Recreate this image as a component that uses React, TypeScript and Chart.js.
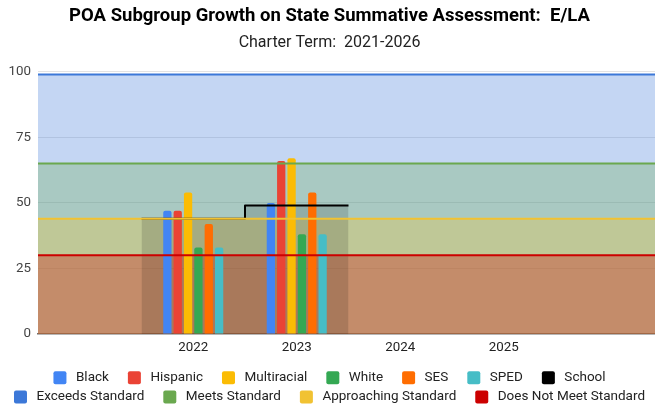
import React, { useEffect, useRef } from 'react';
import { Chart, registerables } from 'chart.js';

Chart.register(...registerables);

// ---- data ----
const categories = ['2021', '2022', '2023', '2024', '2025', '2026'];
const tickLabels = ['', '2022', '2023', '2024', '2025', ''];
const yTicks = [0, 25, 50, 75, 100];

const blackValues = [null, 47, 50, null, null, null];
const hispanicValues = [null, 47, 66, null, null, null];
const multiracialValues = [null, 54, 67, null, null, null];
const whiteValues = [null, 33, 38, null, null, null];
const sesValues = [null, 42, 54, null, null, null];
const spedValues = [null, 33, 38, null, null, null];
const schoolValues = [null, 44, 49, null, null, null];

const exceedsStandard = 99;
const meetsStandard = 65;
const approachingStandard = 44;
const doesNotMeetStandard = 30;

const FONT = 'Roboto';

function alpha(hex: string, a: number) {
  const n = parseInt(hex.slice(1), 16);
  return `rgba(${(n >> 16) & 255},${(n >> 8) & 255},${n & 255},${a})`;
}

function roundRect(g: CanvasRenderingContext2D, x: number, y: number, w: number, h: number, r: number) {
  g.beginPath();
  g.moveTo(x + r, y);
  g.lineTo(x + w - r, y);
  g.arcTo(x + w, y, x + w, y + r, r);
  g.lineTo(x + w, y + h - r);
  g.arcTo(x + w, y + h, x + w - r, y + h, r);
  g.lineTo(x + r, y + h);
  g.arcTo(x, y + h, x, y + h - r, r);
  g.lineTo(x, y + r);
  g.arcTo(x, y, x + r, y, r);
  g.closePath();
}

// legend drawn as canvas text, in centred rows (Sheets style)
const legendPlugin = {
  id: 'sheetLegend',
  afterDraw(chart: any) {
    const o = chart.options.plugins.sheetLegend;
    const g: CanvasRenderingContext2D = chart.ctx;
    const items = chart.data.datasets
      .filter((ds: any) => !ds.skipLegend)
      .map((ds: any) => ({ text: ds.label as string, color: ds.legendColor as string }));
    g.save();
    g.font = `${o.fontSize}px ${FONT}`;
    const widths = items.map((it: any) => o.box + o.textGap + g.measureText(it.text).width);
    const rows: number[][] = [[]];
    let rowW = 0;
    widths.forEach((w: number, i: number) => {
      const cur = rows[rows.length - 1];
      const add = cur.length ? o.itemGap + w : w;
      if (cur.length && rowW + add > chart.width) {
        rows.push([i]);
        rowW = w;
      } else {
        cur.push(i);
        rowW += add;
      }
    });
    g.textBaseline = 'middle';
    g.textAlign = 'left';
    rows.forEach((row, r) => {
      const total = row.reduce((s, i, k) => s + widths[i] + (k ? o.itemGap : 0), 0);
      let x = chart.width / 2 - total / 2;
      const cy = o.top + r * o.rowHeight;
      row.forEach((i) => {
        g.fillStyle = items[i].color;
        roundRect(g, x, cy - o.box / 2, o.box, o.box, 2);
        g.fill();
        g.fillStyle = o.color;
        g.fillText(items[i].text, x + o.box + o.textGap, cy);
        x += widths[i] + o.itemGap;
      });
    });
    g.restore();
  },
};

export default function App() {
  const ref = useRef<HTMLCanvasElement>(null);

  useEffect(() => {
    if (!ref.current) return;
    const xMin = -0.5;
    const xMax = categories.length - 0.5;
    const bandLine = (v: number) => [
      { x: xMin, y: v },
      { x: xMax, y: v },
    ];
    const schoolStep: { x: number; y: number }[] = [];
    schoolValues.forEach((v, i) => {
      if (v == null) return;
      if (schoolStep.length === 0) schoolStep.push({ x: i - 0.5, y: v });
      schoolStep.push({ x: i + 0.5, y: v });
    });
    const toPoints = (vals: (number | null)[]) => vals.map((v, i) => ({ x: i, y: v }));

    const barDs = (label: string, data: (number | null)[], color: string) => ({
      type: 'bar' as const,
      label,
      data: toPoints(data),
      xAxisID: 'x',
      yAxisID: 'y',
      backgroundColor: color,
      legendColor: color,
      categoryPercentage: 0.6,
      barPercentage: 0.8,
      borderRadius: 2,
      borderSkipped: 'start' as const,
      order: 5,
    });
    const bandDs = (label: string, value: number, color: string, order: number) => ({
      type: 'line' as const,
      label,
      data: bandLine(value),
      xAxisID: 'x',
      yAxisID: 'y',
      borderColor: color,
      backgroundColor: alpha(color, 0.3),
      legendColor: color,
      borderWidth: 2,
      pointRadius: 0,
      fill: 'origin',
      order,
    });

    const datasets: any[] = [
      barDs('Black', blackValues, '#4285f4'),
      barDs('Hispanic', hispanicValues, '#ea4335'),
      barDs('Multiracial', multiracialValues, '#fbbc04'),
      barDs('White', whiteValues, '#34a853'),
      barDs('SES', sesValues, '#ff6d01'),
      barDs('SPED', spedValues, '#46bdc6'),
      {
        type: 'line',
        label: 'School',
        data: schoolStep,
        xAxisID: 'x',
        yAxisID: 'y',
        stepped: 'after',
        borderColor: '#000000',
        legendColor: '#000000',
        borderWidth: 2,
        borderJoinStyle: 'round',
        pointRadius: 0,
        fill: false,
        order: 4.5,
      },
      bandDs('Exceeds Standard', exceedsStandard, '#3c78d8', 4),
      bandDs('Meets Standard', meetsStandard, '#6aa84f', 3),
      bandDs('Approaching Standard', approachingStandard, '#f1c232', 2),
      bandDs('Does Not Meet Standard', doesNotMeetStandard, '#cc0000', 1),
      {
        type: 'line',
        label: 'School area',
        data: schoolStep,
        xAxisID: 'x',
        yAxisID: 'y',
        stepped: 'after',
        borderWidth: 0,
        borderColor: 'rgba(0,0,0,0)',
        backgroundColor: 'rgba(0,0,0,0.14)',
        pointRadius: 0,
        fill: 'origin',
        skipLegend: true,
        order: 0.5,
      },
    ];

    const chart = new Chart(ref.current, {
      type: 'bar',
      data: { datasets },
      plugins: [legendPlugin],
      options: {
        responsive: false,
        animation: false,
        events: [],
        layout: { padding: { bottom: 41 } },
        scales: {
          x: {
            type: 'linear',
            min: xMin,
            max: xMax,
            offset: false,
            z: 1,
            afterBuildTicks: (s: any) => {
              s.ticks = categories.map((_c, i) => ({ value: i }));
            },
            grid: { display: false, drawTicks: false, offset: false },
            border: { display: true, color: '#6f6f6f', width: 1.5 },
            ticks: {
              callback: (_v: any, i: number) => tickLabels[i],
              color: '#222',
              font: { family: FONT, size: 13.33 },
              padding: 6,
              maxRotation: 0,
              autoSkip: false,
            },
            afterFit: (s: any) => {
              s.height = 31;
            },
          },
          y: {
            min: 0,
            max: 100,
            z: 1,
            afterBuildTicks: (s: any) => {
              s.ticks = yTicks.map((v) => ({ value: v }));
            },
            ticks: {
              color: '#444',
              font: { family: FONT, size: 13.33 },
              padding: 7,
            },
            grid: {
              drawTicks: false,
              color: (c: any) => (c.tick && c.tick.value === 0 ? 'rgba(0,0,0,0)' : 'rgba(0,0,0,0.11)'),
              lineWidth: 1,
            },
            border: { display: false },
            afterFit: (s: any) => {
              s.width = 38;
            },
          },
        },
        plugins: {
          filler: { drawTime: 'beforeDatasetsDraw' },
          tooltip: { enabled: false },
          legend: { display: false },
          sheetLegend: {
            fontSize: 13.5,
            box: 13,
            textGap: 9.5,
            itemGap: 19,
            top: 377.8,
            rowHeight: 19.2,
            color: '#222',
          },
          title: {
            display: true,
            text: 'POA Subgroup Growth on State Summative Assessment:  E/LA',
            color: '#000',
            font: { family: FONT, size: 18.5, weight: 'bold' },
            padding: { top: 5, bottom: 0 },
          },
          subtitle: {
            display: true,
            text: 'Charter Term:  2021-2026',
            color: '#222',
            font: { family: FONT, size: 16 },
            padding: { top: 6, bottom: 19.4 },
          },
        },
      } as any,
    });
    return () => chart.destroy();
  }, []);

  return (
    <div
      style={{
        position: 'fixed',
        left: 0,
        top: 0,
        width: 655,
        height: 406,
        overflow: 'hidden',
        background: '#fff',
      }}
    >
      <canvas ref={ref} width={659} height={406} style={{ display: 'block' }} />
    </div>
  );
}
